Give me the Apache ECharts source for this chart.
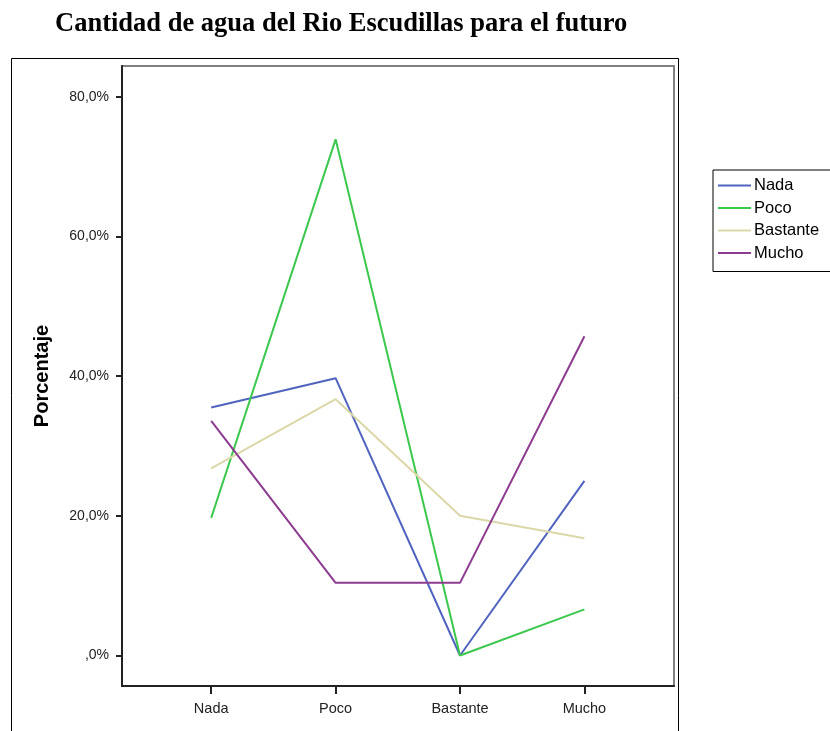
<!DOCTYPE html>
<html>
<head>
<meta charset="utf-8">
<script src="https://cdn.jsdelivr.net/npm/echarts@6/dist/echarts.min.js"></script>
<style>html,body{margin:0;padding:0;background:#fff}#c{width:830px;height:731px}</style>
</head>
<body>
<div id="c"></div>
<script>
const titleText = 'Cantidad de agua del Rio Escudillas para el futuro';
const categories = ['Nada', 'Poco', 'Bastante', 'Mucho'];
const seriesNames = ['Nada', 'Poco', 'Bastante', 'Mucho'];
const nadaValues = [35.5, 39.7, 0, 25.0];
const pocoValues = [19.7, 73.9, 0, 6.6];
const bastanteValues = [26.8, 36.7, 20.0, 16.8];
const muchoValues = [33.6, 10.4, 10.4, 45.7];
const yTickValues = [0, 20, 40, 60, 80];
const yTickLabels = [',0%', '20,0%', '40,0%', '60,0%', '80,0%'];
const colors = ['#5064bf', '#3cc84d', '#dcd7a8', '#8c3b8f'];

const allValues = [nadaValues, pocoValues, bastanteValues, muchoValues];
const chart = echarts.init(document.getElementById('c'));
const sans = '"Liberation Sans", Arial, sans-serif';

chart.setOption({
  animation: false,
  title: {
    text: titleText, left: 50, top: 6,
    textStyle: { fontFamily: '"Liberation Serif", "Times New Roman", serif', fontWeight: 'bold', fontSize: 26.5, color: '#000' }
  },
  graphic: [
    { type: 'rect', shape: { x: 11.5, y: 58.5, width: 667, height: 700 }, style: { fill: 'none', stroke: '#000', lineWidth: 1 }, z: -10 }
  ],
  grid: { left: 122, top: 66, right: 156, bottom: 45, show: true, borderColor: '#808080', borderWidth: 2, backgroundColor: 'transparent' },
  legend: {
    orient: 'vertical', left: 713, top: 170,
    data: seriesNames,
    borderColor: '#000', borderWidth: 1, borderRadius: 0,
    padding: [7, 40, 10, 4],
    itemWidth: 33, itemHeight: 14, itemGap: 5.5,
    itemStyle: { color: 'transparent', borderColor: 'transparent', borderWidth: 0 },
    lineStyle: { width: 2 },
    textStyle: { fontFamily: sans, fontSize: 16.5, color: '#000', padding: [0, 0, 0, -2] }
  },
  xAxis: {
    type: 'value', min: -0.717, max: 3.72,
    splitLine: { show: false },
    axisLine: { show: true, onZero: false, lineStyle: { color: '#222', width: 2 } },
    axisTick: { show: true, length: 8, customValues: [0, 1, 2, 3], lineStyle: { color: '#222', width: 2 } },
    axisLabel: { customValues: [0, 1, 2, 3], formatter: v => categories[Math.round(v)], margin: 15, fontFamily: sans, fontSize: 14.5, color: '#222' }
  },
  yAxis: {
    type: 'value', min: -4.37, max: 84.4,
    name: 'Porcentaje', nameLocation: 'middle', nameGap: 70,
    nameTextStyle: { fontFamily: sans, fontWeight: 'bold', fontSize: 20, color: '#000' },
    splitLine: { show: false },
    axisLine: { show: true, onZero: false, lineStyle: { color: '#222', width: 2 } },
    axisTick: { show: true, length: 6, customValues: yTickValues, lineStyle: { color: '#222', width: 2 } },
    axisLabel: { customValues: yTickValues, formatter: v => yTickLabels[yTickValues.indexOf(Math.round(v))], margin: 13, fontFamily: sans, fontSize: 14, color: '#222' }
  },
  series: seriesNames.map((n, k) => ({
    name: n, type: 'line', symbol: 'none', showSymbol: false,
    data: allValues[k].map((v, i) => [i, v]),
    lineStyle: { color: colors[k], width: 2 },
    itemStyle: { color: colors[k] }
  }))
});
</script>
</body>
</html>
